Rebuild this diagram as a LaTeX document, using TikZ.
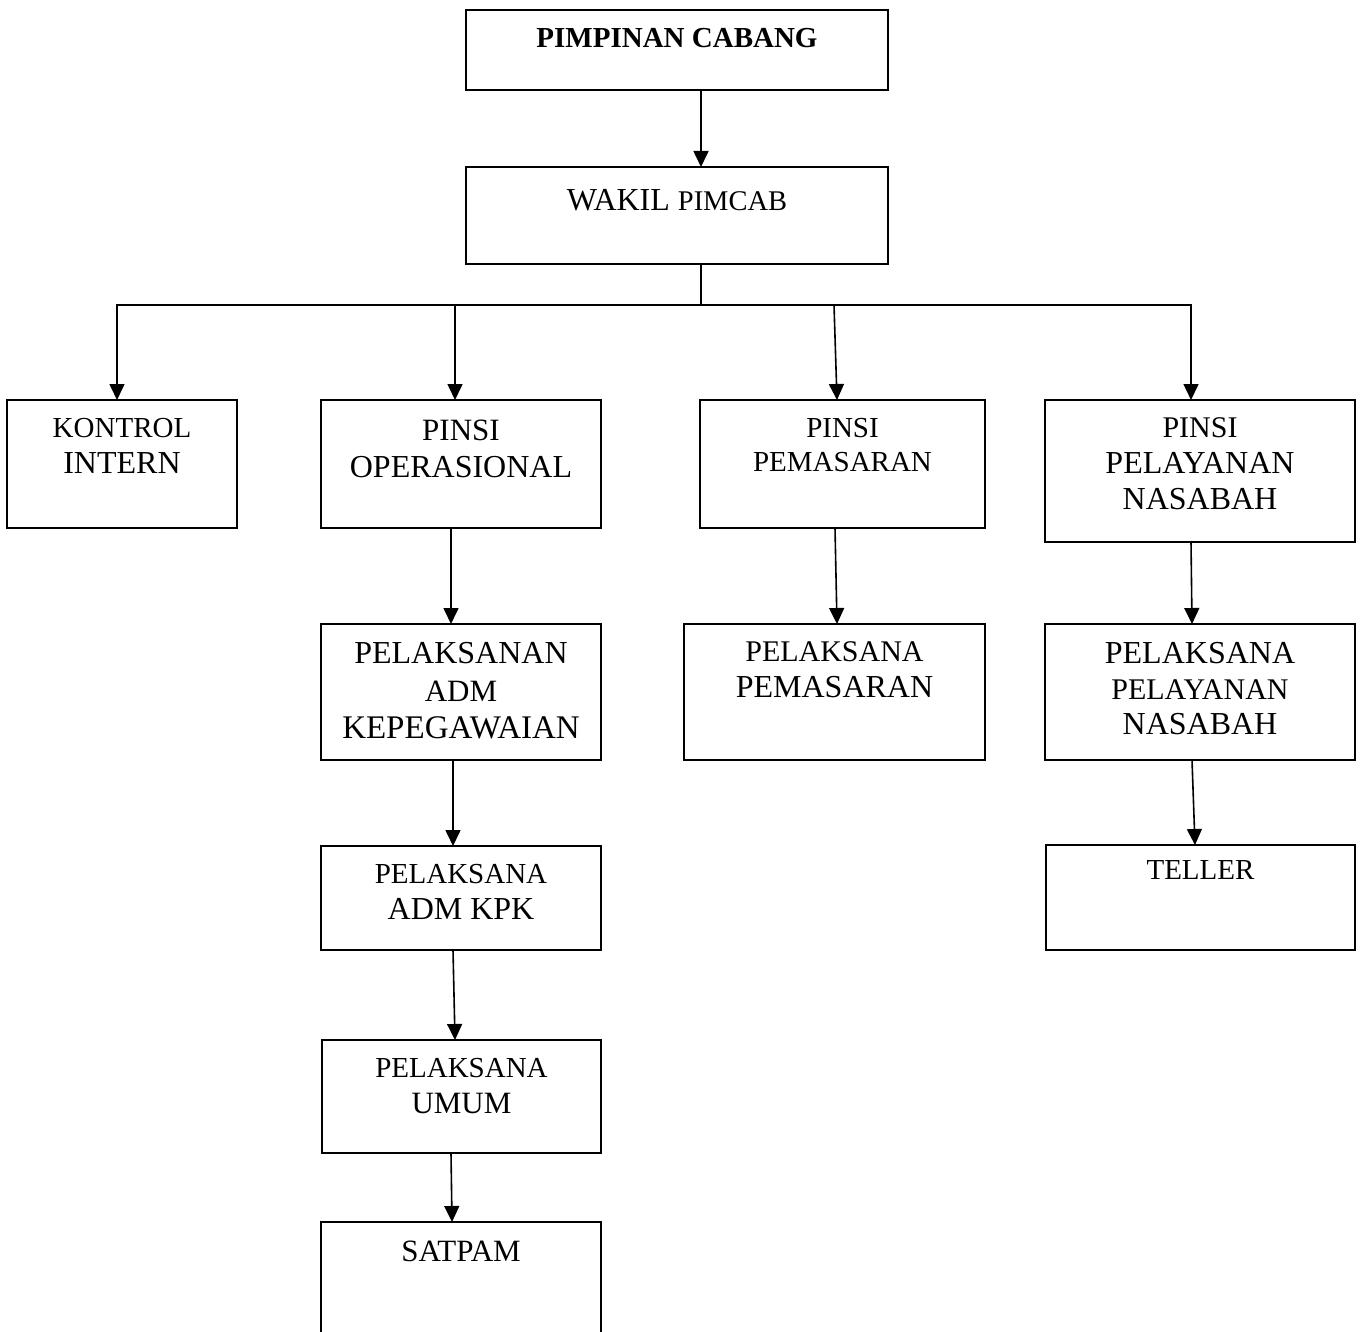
\documentclass[tikz,border=0pt]{standalone}
\usepackage{fontspec}
\setmainfont{Liberation Serif}
\usetikzlibrary{arrows.meta}
\newcommand\boxtxt[6]{\parbox[t][#2][t]{#1}{\fontsize{#4}{#5}\selectfont\centering\vspace*{#3}#6\par}}
\newcommand\fs[1]{\fontsize{#1}{\baselineskip}\selectfont}
\tikzset{
  orgbox/.style={draw, line width=1.6pt, inner sep=0pt, outer sep=0pt, anchor=north west},
  conn/.style={line width=1.6pt},
  arr/.style={line width=1.6pt, -{Triangle[length=16pt,width=15pt]}}
}
\begin{document}
\begin{tikzpicture}[x=1pt,y=-1pt]
\useasboundingbox (0,0) rectangle (1362,1332);
\clip (0,0) rectangle (1362,1332);
\fill[white] (0,0) rectangle (1362,1332);
% top
\node[orgbox] (pc) at (466,10) {\boxtxt{422pt}{80pt}{18.5pt}{29}{35}{\bfseries PIMPINAN CABANG}};
\node[orgbox] (wk) at (466,167) {\boxtxt{422pt}{97pt}{22.5pt}{32}{36}{WAKIL {\fs{28.5}PIMCAB}}};
% second row
\node[orgbox] (ki) at (7,400) {\boxtxt{230pt}{128pt}{18.5pt}{29}{36}{KONTROL\\\fs{32}INTERN}};
\node[orgbox] (po) at (321,400) {\boxtxt{280pt}{128pt}{19.8pt}{31}{37}{PINSI\\\fs{32}OPERASIONAL}};
\node[orgbox] (pp) at (700,400) {\boxtxt{285pt}{128pt}{18pt}{29}{34}{PINSI\\PEMASARAN}};
\node[orgbox] (pn) at (1045,400) {\boxtxt{310pt}{142pt}{18pt}{30}{36}{PINSI\\\fs{32}PELAYANAN\\NASABAH}};
% third row
\node[orgbox] (pa) at (321,624) {\boxtxt{280pt}{136pt}{18.4pt}{32}{37.5}{PELAKSANAN\\\fs{31}ADM\\\fs{33}KEPEGAWAIAN}};
\node[orgbox] (lp) at (684,624) {\boxtxt{301pt}{136pt}{18pt}{30}{36}{PELAKSANA\\\fs{32}PEMASARAN}};
\node[orgbox] (ln) at (1045,624) {\boxtxt{310pt}{136pt}{18.5pt}{32}{35.5}{PELAKSANA\\\fs{30}PELAYANAN\\\fs{32}NASABAH}};
% lower
\node[orgbox] (tl) at (1046,845) {\boxtxt{309pt}{105pt}{16pt}{29}{36}{TELLER}};
\node[orgbox] (ak) at (321,846) {\boxtxt{280pt}{104pt}{18pt}{29}{36}{PELAKSANA\\\fs{32}ADM KPK}};
\node[orgbox] (um) at (322,1040) {\boxtxt{279pt}{113pt}{18pt}{29}{36}{PELAKSANA\\\fs{31}UMUM}};
\node[orgbox] (sp) at (321,1222) {\boxtxt{280pt}{140pt}{18.8pt}{31}{36}{SATPAM}};
% connectors
\draw[arr] ([xshift=24pt]pc.south) -- ([xshift=24pt]wk.north);
\coordinate (bus) at (701,305);
\coordinate (bp) at (834,305);
\draw[conn] ([xshift=24pt]wk.south) -- (bus);
\draw[arr] (bus) -| ([xshift=-5pt]ki.north);
\draw[arr] (bus) -| ([xshift=-6pt]po.north);
\draw[arr] (bus) -| ([xshift=-9pt]pn.north);
\draw[arr] (bp) -- ([xshift=-5.5pt]pp.north);
\draw[arr] ([xshift=-10pt]po.south) -- ([xshift=-10pt]pa.north);
\draw[arr] ([xshift=-8pt]pa.south) -- ([xshift=-8pt]ak.north);
\draw[arr] ([xshift=-8pt]ak.south) -- ([xshift=-6.5pt]um.north);
\draw[arr] ([xshift=-10.5pt]um.south) -- ([xshift=-9pt]sp.north);
\draw[arr] ([xshift=-7.5pt]pp.south) -- ([xshift=2.5pt]lp.north);
\draw[arr] ([xshift=-9pt]pn.south) -- ([xshift=-8pt]ln.north);
\draw[arr] ([xshift=-8pt]ln.south) -- ([xshift=-5.5pt]tl.north);
\end{tikzpicture}
\end{document}
